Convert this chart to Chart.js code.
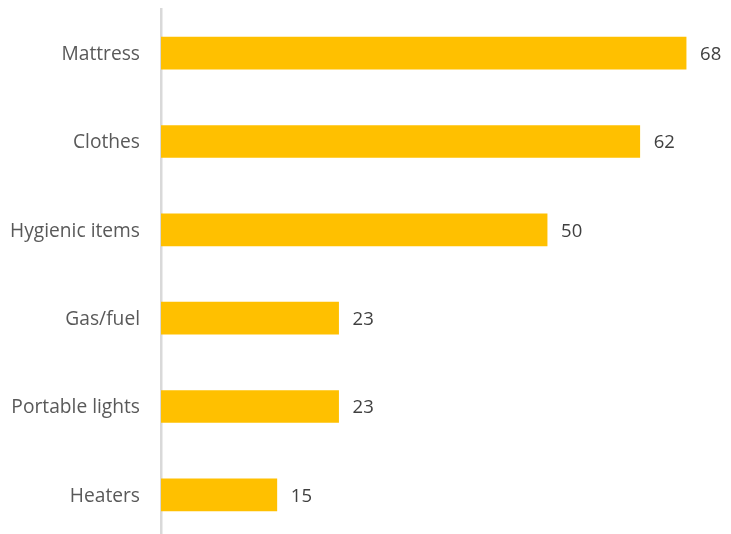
<!DOCTYPE html>
<html>
<head>
<meta charset="utf-8">
<script src="https://cdn.jsdelivr.net/npm/chart.js@4.4.0/dist/chart.umd.min.js"></script>
<style>
    html, body { margin: 0; padding: 0; background: #fff; overflow: hidden; }
    body { width: 731px; height: 534px; }
    #wrap { position: relative; width: 731px; height: 539px; }
</style>
</head>
<body>
<div id="wrap"><canvas id="itemsChart"></canvas></div>
<script>
const categories = ["Mattress", "Clothes", "Hygienic items", "Gas/fuel", "Portable lights", "Heaters"];
const counts = [68, 62, 50, 23, 23, 15];

// value printed just past the end of each bar
const barValueLabels = {
    id: "barValueLabels",
    afterDatasetsDraw(chart) {
        const ctx = chart.ctx;
        const meta = chart.getDatasetMeta(0);
        ctx.save();
        ctx.font = "18.5px 'Open Sans', sans-serif";
        ctx.fillStyle = "#404040";
        ctx.textAlign = "left";
        ctx.textBaseline = "middle";
        meta.data.forEach((bar, i) => {
            ctx.fillText(String(counts[i]), bar.x + 14, bar.y + 1.5);
        });
        ctx.restore();
    }
};

const ctx = document.getElementById("itemsChart").getContext("2d");
new Chart(ctx, {
    type: "bar",
    data: {
        labels: categories,
        datasets: [{
            data: counts,
            backgroundColor: "#FFC000",
            borderWidth: 0,
            barThickness: 32
        }]
    },
    options: {
        indexAxis: "y",
        responsive: true,
        maintainAspectRatio: false,
        animation: false,
        layout: { padding: { top: 9, right: 14, bottom: 0, left: 0 } },
        plugins: {
            legend: { display: false },
            tooltip: { enabled: false }
        },
        scales: {
            x: {
                display: false,
                min: 0,
                max: 72
            },
            y: {
                afterFit(scale) {
                    // fixed gutter for the labels, no extra vertical padding
                    scale.width = 161;
                    scale.paddingTop = 0;
                    scale.paddingBottom = 0;
                },
                grid: { display: false, drawTicks: false },
                border: { display: true, color: "#d9d9d9", width: 2.5 },
                ticks: {
                    padding: 21,
                    labelOffset: 1.5,
                    color: "#595959",
                    font: { family: "'Open Sans', sans-serif", size: 19.2 }
                }
            }
        }
    },
    plugins: [barValueLabels]
});
</script>
</body>
</html>
